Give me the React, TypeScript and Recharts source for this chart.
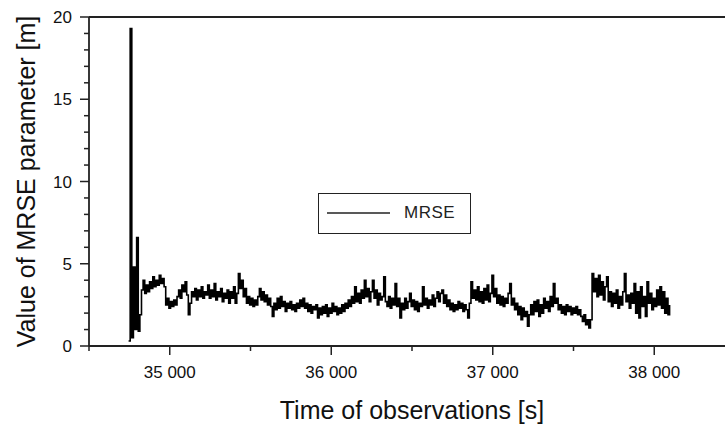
import React from "react";
import { LineChart, Line, XAxis, YAxis, ReferenceLine } from "recharts";

// ---- data ----
const startTime = 34745; // s
const timeStep = 10; // s
const mrseValues: number[] = [
  0.3, 19.3, 0.5, 4.8, 1.0, 6.6, 0.9, 1.9, 3.4, 4.0,
  3.2, 3.7, 3.3, 3.9, 3.5, 4.2, 3.6, 4.0, 3.7, 4.3,
  3.8, 4.1, 3.6, 2.5, 2.9, 2.3, 2.7, 2.4, 2.8, 2.5,
  3.0, 3.4, 2.9, 3.7, 3.3, 3.9, 3.1, 1.9, 2.6, 3.3,
  3.0, 3.5, 2.8, 3.4, 3.0, 3.6, 2.9, 3.3, 3.1, 3.7,
  2.9, 3.4, 3.0, 3.8, 2.8, 3.3, 3.0, 3.5, 2.7, 3.2,
  2.9, 3.4, 2.6, 3.3, 2.9, 3.6, 2.6, 3.2, 4.4, 3.5,
  4.0, 3.0, 3.5, 2.6, 3.0, 2.5, 2.9, 2.4, 2.8, 2.5,
  3.0, 3.5, 2.8, 3.3, 2.7, 3.1, 2.5, 2.9, 2.4, 1.8,
  2.6, 2.2, 2.9, 2.3, 3.0, 2.4, 2.7, 2.1, 2.6, 2.3,
  2.7, 2.2, 2.5, 2.1, 2.6, 2.3, 2.8, 2.4, 2.9, 2.3,
  2.6, 2.1, 2.5, 2.0, 2.4, 2.2, 2.5, 1.7, 2.3, 1.9,
  2.4, 2.0, 2.5, 1.8, 2.3, 2.0, 2.6, 2.1, 2.4, 1.9,
  2.3, 2.0, 2.5, 2.1, 2.6, 2.3, 2.8, 2.4, 3.0, 2.6,
  3.6, 2.7, 3.2, 2.6, 3.4, 2.9, 4.0, 3.0, 3.5, 2.7,
  3.3, 4.0, 2.9, 3.4, 2.5, 3.2, 2.8, 3.0, 4.2, 2.7,
  2.4, 3.0, 2.3, 2.9, 2.5, 3.8, 2.4, 2.9, 1.7, 2.6,
  2.2, 2.9, 2.3, 2.7, 3.2, 2.4, 2.8, 2.2, 2.7, 2.1,
  2.6, 2.4, 3.6, 2.5, 2.9, 2.3, 2.8, 2.5, 3.1, 2.4,
  2.9, 3.3, 2.7, 3.2, 3.4, 2.6, 3.1, 2.4, 2.8, 2.2,
  2.6, 2.1, 2.5, 2.2, 2.7, 2.3, 2.6, 2.1, 2.5, 2.2,
  1.7, 2.6, 3.9, 2.9, 3.4, 2.8, 3.6, 2.7, 3.3, 2.6,
  3.5, 2.8, 3.7, 2.7, 3.2, 4.3, 3.0, 3.5, 2.6, 3.1,
  2.5, 3.0, 2.4, 2.9, 2.6, 3.2, 3.8, 2.5, 2.9, 2.2,
  2.6, 1.9, 2.4, 1.6, 2.3, 1.8, 2.1, 1.2, 1.9, 2.5,
  1.9, 2.7, 2.1, 2.8, 1.8, 2.5, 2.0, 2.9, 2.3, 2.7,
  2.1, 3.0, 2.4, 3.8, 2.6, 2.9, 2.2, 2.5, 2.0, 2.4,
  1.9, 2.5, 2.1, 2.4, 1.9, 2.3, 2.0, 2.4, 1.9, 2.2,
  1.8, 1.5, 1.9, 1.3, 1.6, 1.1, 1.6, 4.4, 3.3, 4.1,
  3.0, 4.3, 3.1, 3.9, 2.8, 3.6, 4.2, 2.7, 3.3, 2.4,
  3.2, 2.6, 3.4, 2.3, 3.0, 2.5, 3.3, 4.4, 2.7, 3.1,
  2.3, 3.2, 2.6, 3.8, 2.0, 3.3, 1.7, 3.6, 2.4, 3.0,
  1.8, 3.9, 2.6, 3.2, 2.2, 2.9, 2.4, 3.4, 2.5, 3.6,
  2.3, 3.3, 2.0, 2.9, 1.9, 2.5,
];

const xTicks = [34500, 35000, 35500, 36000, 36500, 37000, 37500, 38000, 38500];
const xMajorTicks = [35000, 36000, 37000, 38000];
const yTicks = [0, 1, 2, 3, 4, 5, 6, 7, 8, 9, 10, 11, 12, 13, 14, 15, 16, 17, 18, 19, 20];
const yMajorTicks = [0, 5, 10, 15, 20];
const seriesName = "MRSE";
const xTitle = "Time of observations [s]";
const yTitle = "Value of MRSE parameter [m]";

const data = mrseValues.map((v, i) => ({ t: startTime + i * timeStep, v }));

const FONT = '"Liberation Sans", Arial, sans-serif';
const AXIS_COLOR = "#222";

const fmtX = (v: number) =>
  `${Math.floor(v / 1000)} ${String(v % 1000).padStart(3, "0")}`;

const XTick = (props: any) => {
  const { x, y, payload } = props;
  const major = xMajorTicks.includes(payload.value);
  return (
    <g>
      <line x1={x} x2={x} y1={y} y2={y + (major ? 9 : 5)} stroke={AXIS_COLOR} strokeWidth={1.5} />
      {major && (
        <text x={x} y={y + 32} textAnchor="middle" fontSize={17} fontFamily={FONT} fill="#111">
          {fmtX(payload.value)}
        </text>
      )}
    </g>
  );
};

const YTick = (props: any) => {
  const { x, y, payload } = props;
  const major = yMajorTicks.includes(payload.value);
  return (
    <g>
      <line x1={x - (major ? 9 : 5)} x2={x} y1={y} y2={y} stroke={AXIS_COLOR} strokeWidth={1.5} />
      {major && (
        <text x={x - 17} y={y + 6} textAnchor="end" fontSize={17} fontFamily={FONT} fill="#111">
          {payload.value}
        </text>
      )}
    </g>
  );
};

const XTitle = (props: any) => {
  const vb = props.viewBox || {};
  return (
    <text x={vb.x + vb.width / 2} y={vb.y + 73} textAnchor="middle" fontSize={25} fontFamily={FONT} fill="#111">
      {xTitle}
    </text>
  );
};

const YTitle = (props: any) => {
  const vb = props.viewBox || {};
  const cx = vb.x + 26;
  const cy = vb.y + vb.height / 2;
  return (
    <text
      x={cx}
      y={cy}
      transform={`rotate(-90, ${cx}, ${cy})`}
      textAnchor="middle"
      dominantBaseline="central"
      fontSize={25}
      fontFamily={FONT}
      fill="#111"
    >
      {yTitle}
    </text>
  );
};

const LegendBox = () => (
  <div
    style={{
      position: "absolute",
      left: 318,
      top: 193,
      boxSizing: "border-box",
      width: 153,
      height: 41,
      border: "1.5px solid #222",
      background: "#fff",
      fontFamily: FONT,
    }}
  >
    <svg width={80} height={38} style={{ position: "absolute", left: 0, top: 0 }}>
      <line x1={8} x2={71} y1={19} y2={19} stroke="#222" strokeWidth={1.5} />
    </svg>
    <span
      style={{
        position: "absolute",
        left: 85,
        top: 9,
        fontSize: 17,
        lineHeight: "20px",
        letterSpacing: 0.5,
        color: "#222",
      }}
    >
      {seriesName}
    </span>
  </div>
);

if (typeof document !== "undefined") {
  document.body.style.margin = "0";
}

export default function App() {
  return (
    <div style={{ width: 725, height: 429, overflow: "hidden", background: "#fff", position: "relative" }}>
      <LineChart
        width={745}
        height={429}
        data={data}
        margin={{ top: 17, right: 10, bottom: 0, left: 0 }}
      >
        <XAxis
          dataKey="t"
          type="number"
          domain={[34500, 38500]}
          ticks={xTicks}
          interval={0}
          allowDataOverflow
          height={83}
          tickLine={false}
          tickSize={0}
          tickMargin={0}
          tick={<XTick />}
          axisLine={{ stroke: AXIS_COLOR, strokeWidth: 1.8 }}
          label={<XTitle />}
        />
        <YAxis
          type="number"
          domain={[0, 20]}
          ticks={yTicks}
          interval={0}
          width={89}
          tickLine={false}
          tickSize={0}
          tickMargin={0}
          tick={<YTick />}
          axisLine={{ stroke: AXIS_COLOR, strokeWidth: 1.8 }}
          label={<YTitle />}
        />
        <ReferenceLine y={20} stroke={AXIS_COLOR} strokeWidth={1.8} />
        <Line
          type="stepAfter"
          dataKey="v"
          name={seriesName}
          stroke="#000"
          strokeWidth={1.6}
          dot={false}
          isAnimationActive={false}
        />
      </LineChart>
      <LegendBox />
    </div>
  );
}
